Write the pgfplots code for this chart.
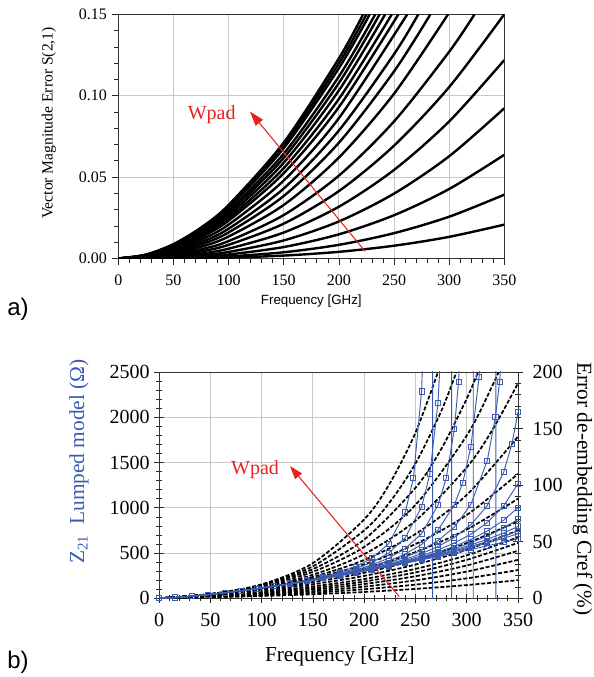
\documentclass[border=0pt]{standalone}
\usepackage{fontspec}
\setmainfont{Liberation Serif}
\setsansfont{Liberation Sans}
\usepackage{pgfplots}
\pgfplotsset{compat=1.18}
\usetikzlibrary{arrows.meta}

\definecolor{zblue}{HTML}{3A5BB0}
\definecolor{wred}{HTML}{E52421}
\definecolor{gridgray}{HTML}{C8C8C8}

\pgfplotsset{
  vme/.style={black, line width=1.8pt, smooth},
  cref/.style={black, line width=1.3pt, dash pattern=on 3pt off 1.4pt, smooth},
  z21/.style={zblue, line width=0.7pt, mark=square, mark size=1.9pt,
    mark options={solid, fill=zblue!8}},
}

\begin{document}
\begin{tikzpicture}
\useasboundingbox (0,0) rectangle (444.75pt,-507.75pt);

% ---------- a) vector magnitude error ----------
\begin{axis}[
  at={(88.725pt,-193.875pt)}, anchor=south west,
  scale only axis, width=289.5pt, height=183.15pt,
  xmin=0, xmax=350, ymin=0, ymax=0.15,
  xtick={0,50,...,350}, ytick={0,0.05,0.1,0.15},
  minor x tick num=4, minor y tick num=4,
  xtick pos=lower, ytick pos=left,
  grid=major, major grid style={gridgray, line width=0.6pt},
  tick align=outside, major tick length=5pt, minor tick length=3pt,
  tick style={black!85, line width=0.5pt},
  axis line style={black!80, line width=0.6pt},
  scaled y ticks=false,
  yticklabel style={/pgf/number format/.cd, fixed, fixed zerofill, precision=2},
  xticklabel style={yshift=-3.5pt},
  /pgf/number format/assume math mode=true,
  tick label style={font=\fontsize{12}{14}\selectfont},
  xlabel={Frequency [GHz]},
  xlabel style={font=\sffamily\fontsize{10}{12}\selectfont,
    at={(axis description cs:0.5,-0.175)}, anchor=center},
  ylabel={Vector Magnitude Error S(2,1)},
  ylabel style={font=\fontsize{11.7}{13}\selectfont,
    at={(axis description cs:-0.18,0.555)}, anchor=center},
]
\addplot[vme] coordinates {(0,0)(25,0.00001)(50,0.00007)(75,0.00024)(100,0.00055)(150,0.00179)(200,0.0041)(250,0.00785)(300,0.0133)(350,0.0208)};
\addplot[vme] coordinates {(0,0)(25,0.00003)(50,0.00019)(75,0.00057)(100,0.00125)(150,0.00382)(200,0.0084)(250,0.01556)(300,0.02567)(350,0.0392)};
\addplot[vme] coordinates {(0,0)(25,0.00007)(50,0.0004)(75,0.00116)(100,0.00245)(150,0.00705)(200,0.01485)(250,0.02658)(300,0.04268)(350,0.0637)};
\addplot[vme] coordinates {(0,0)(25,0.00013)(50,0.00071)(75,0.00196)(100,0.00402)(150,0.0111)(200,0.02276)(250,0.03985)(300,0.0628)(350,0.0923)};
\addplot[vme] coordinates {(0,0)(25,0.00022)(50,0.00114)(75,0.00303)(100,0.00602)(150,0.01596)(200,0.0318)(250,0.0544)(300,0.0842)(350,0.1219)};
\addplot[vme] coordinates {(0,0)(25,0.00035)(50,0.00171)(75,0.00434)(100,0.0084)(150,0.0214)(200,0.0414)(250,0.0693)(300,0.1053)(350,0.15)};
\addplot[vme] coordinates {(0,0)(25,0.00047)(50,0.00225)(75,0.00561)(100,0.0107)(150,0.0267)(200,0.0509)(250,0.0842)(300,0.127)(323,0.15)};
\addplot[vme] coordinates {(0,0)(25,0.00064)(50,0.00294)(75,0.00716)(100,0.01349)(150,0.0329)(200,0.062)(250,0.1012)(299,0.15)};
\addplot[vme] coordinates {(0,0)(25,0.00082)(50,0.00361)(75,0.00864)(100,0.016)(150,0.0384)(200,0.0711)(250,0.1149)(283,0.15)};
\addplot[vme] coordinates {(0,0)(25,0.001)(50,0.00428)(75,0.01)(100,0.0183)(150,0.043)(200,0.0786)(250,0.1255)(272,0.15)};
\addplot[vme] coordinates {(0,0)(25,0.00122)(50,0.00503)(75,0.01154)(100,0.0208)(150,0.0479)(200,0.0862)(262,0.15)};
\addplot[vme] coordinates {(0,0)(25,0.00146)(50,0.00582)(75,0.01308)(100,0.02325)(150,0.0524)(200,0.093)(254,0.15)};
\addplot[vme] coordinates {(0,0)(25,0.0016)(50,0.0063)(75,0.01406)(100,0.0248)(150,0.0555)(200,0.098)(248,0.15)};
\addplot[vme] coordinates {(0,0)(25,0.00175)(50,0.00682)(75,0.0151)(100,0.0265)(150,0.0588)(200,0.1032)(242,0.15)};
\addplot[vme] coordinates {(0,0)(25,0.00191)(50,0.00732)(75,0.0161)(100,0.0281)(150,0.0618)(200,0.1078)(237,0.15)};
\addplot[vme] coordinates {(0,0)(25,0.00207)(50,0.00782)(75,0.017)(100,0.0296)(150,0.0644)(200,0.1118)(233,0.15)};
\addplot[vme] coordinates {(0,0)(25,0.00225)(50,0.0084)(75,0.0181)(100,0.0313)(150,0.0678)(200,0.1169)(228,0.15)};
\addplot[vme] coordinates {(0,0)(25,0.00231)(50,0.0086)(75,0.0186)(100,0.0321)(150,0.0695)(200,0.1199)(225,0.15)};
\addplot[vme] coordinates {(0,0)(25,0.00236)(50,0.00882)(75,0.019)(100,0.0329)(150,0.0712)(200,0.1229)(222,0.15)};
\draw[wred, line width=0.8pt, -{Triangle[length=11pt,width=7pt]}]
  (axis cs:223.7,0.0045) -- (axis cs:119.4,0.0903);
\node[wred, font=\fontsize{15}{17}\selectfont] at (axis cs:84.7,0.0882) {Wpad};
\end{axis}

% ---------- b) grid and left axis ----------
\begin{axis}[
  at={(119.25pt,-448.725pt)}, anchor=south west,
  scale only axis, width=269.25pt, height=169.725pt,
  xmin=0, xmax=350, ymin=0, ymax=2500,
  xtick={0,50,...,350}, ytick={0,500,...,2500},
  minor x tick num=4, minor y tick num=4,
  xtick pos=lower, ytick pos=left,
  grid=major, major grid style={gridgray, line width=0.6pt},
  tick align=center, major tick length=7pt, minor tick length=4.5pt,
  tick style={black!85, line width=0.5pt},
  axis line style={black!80, line width=0.6pt},
  scaled y ticks=false,
  /pgf/number format/assume math mode=true,
  /pgf/number format/set thousands separator={},
  tick label style={font=\fontsize{15}{17}\selectfont},
  xticklabel style={yshift=-4.5pt},
  xlabel={Frequency [GHz]},
  xlabel style={font=\fontsize{16}{18}\selectfont,
    at={(axis description cs:0.504,-0.255)}, anchor=center},
  ylabel={Z\textsubscript{21}\ \ Lumped model (Ω)},
  ylabel style={zblue, font=\fontsize{16}{18}\selectfont,
    at={(axis description cs:-0.223,0.604)}, anchor=center},
]
\end{axis}

% ---------- b) right axis: de-embedding error ----------
\begin{axis}[
  at={(119.25pt,-448.725pt)}, anchor=south west,
  scale only axis, width=269.25pt, height=169.725pt,
  xmin=0, xmax=350, ymin=0, ymax=200,
  axis x line=none, axis y line*=right,
  ytick={0,50,...,200}, minor y tick num=4,
  tick align=center, major tick length=7pt, minor tick length=4.5pt,
  tick style={black!85, line width=0.5pt},
  axis line style={black!80, line width=0.6pt},
  /pgf/number format/assume math mode=true,
  tick label style={font=\fontsize{15}{17}\selectfont},
  yticklabel style={xshift=4pt},
  ylabel={Error de-embedding Cref (\%)},
  ylabel style={font=\fontsize{16}{18}\selectfont,
    at={(axis description cs:1.18,0.483)}, anchor=center, rotate=180},
]
\addplot[cref] coordinates {(0,0)(50,3.67)(100,12.33)(150,31.1)(200,69.7)(225,101.6)(250,146.3)(272,200)};
\addplot[cref] coordinates {(0,0)(50,3.74)(100,11.88)(150,28.3)(200,60.0)(225,85.0)(250,119.1)(275,165.1)(290,200)};
\addplot[cref] coordinates {(0,0)(50,3.80)(100,11.44)(150,25.8)(200,51.9)(250,97.6)(275,131.7)(300,176.4)(311,200)};
\addplot[cref] coordinates {(0,0)(50,3.69)(100,10.74)(150,23.4)(200,45.4)(250,82.5)(300,143.8)(325,187.9)(331,200)};
\addplot[cref] coordinates {(0,0)(50,3.51)(100,9.87)(150,20.8)(200,39.0)(250,68.6)(300,115.7)(325,148.8)(350,190)};
\addplot[cref] coordinates {(0,0)(50,3.51)(100,9.41)(150,18.9)(200,33.9)(250,56.8)(300,91.4)(350,143)};
\addplot[cref] coordinates {(0,0)(50,3.57)(100,9.14)(150,17.5)(200,30.0)(250,47.9)(300,73.6)(350,110)};
\addplot[cref] coordinates {(0,0)(50,3.43)(100,8.52)(150,15.9)(200,26.3)(250,40.8)(300,60.8)(350,88)};
\addplot[cref] coordinates {(0,0)(50,3.29)(100,7.88)(150,14.2)(200,22.6)(250,33.9)(300,48.7)(350,68)};
\addplot[cref] coordinates {(0,0)(50,2.86)(100,6.87)(150,12.4)(200,19.8)(250,29.8)(300,42.9)(350,60)};
\addplot[cref] coordinates {(0,0)(50,2.36)(100,5.74)(150,10.5)(200,17.0)(250,26.0)(300,38.0)(350,54)};
\addplot[cref] coordinates {(0,0)(50,1.96)(100,4.85)(150,9.0)(200,14.8)(250,22.9)(300,34.0)(350,49)};
\addplot[cref] coordinates {(0,0)(50,1.64)(100,4.08)(150,7.6)(200,12.6)(250,19.5)(300,29.0)(350,42)};
\addplot[cref] coordinates {(0,0)(50,1.36)(100,3.36)(150,6.2)(200,10.3)(250,15.9)(300,23.6)(350,34)};
\addplot[cref] coordinates {(0,0)(50,1.11)(100,2.69)(150,4.9)(200,8.0)(250,12.1)(300,17.6)(350,25)};
\addplot[cref] coordinates {(0,0)(50,0.87)(100,2.04)(150,3.6)(200,5.6)(250,8.3)(300,11.7)(350,16)};
\end{axis}

% ---------- b) blue lumped-model Z21 curves ----------
\begin{axis}[
  at={(119.25pt,-448.725pt)}, anchor=south west,
  scale only axis, width=269.25pt, height=169.725pt,
  xmin=0, xmax=350, ymin=0, ymax=2500,
  hide axis,
]
\addplot[z21] coordinates {(0,0)(16,8.7)(32,23.1)(48,40.7)(64,60.8)(80,83.1)(96,107.3)(112,135)(128,165)(144,198.5)(160,237.8)(176,286.7)(192,351)(208,445.6)(224,604.8)(240,948)(248,1325)(256,2285)(260,3684)(266.7,20000)(266.7,-20000)};
\addplot[z21] coordinates {(0,0)(16,8.7)(32,23.1)(48,40.7)(64,60.8)(80,83.1)(96,107.3)(112,134.4)(128,163.6)(144,195.8)(160,232.2)(176,275.3)(192,328.4)(208,398.9)(224,500.7)(240,668.5)(256,1008.6)(264,1369)(272,2161)(276,3012)(285.3,20000)(285.3,-20000)};
\addplot[z21] coordinates {(0,0)(16,8.7)(32,23.1)(48,40.7)(64,60.8)(80,83.1)(96,107.3)(112,134.1)(128,162.7)(144,193.9)(160,228.3)(176,267.5)(192,313.5)(208,370.2)(224,444.3)(240,549.2)(256,714)(272,1028.6)(280,1325)(288,1873.6)(292,2387)(296,3235)(306.4,20000)(306.4,-20000)};
\addplot[z21] coordinates {(0,0)(16,8.7)(32,23.1)(48,40.7)(64,60.8)(80,83.1)(96,107.3)(112,133.8)(128,162.0)(144,192.5)(160,225.6)(176,262.3)(192,303.9)(208,352.6)(224,412.1)(240,488.7)(256,593.8)(272,754.5)(288,1034)(296,1271.5)(304,1668.7)(312,2441)(316,3189)(328.5,20000)(328.5,-20000)};
\addplot[z21] coordinates {(0,0)(16,8.7)(32,23.1)(48,40.7)(64,60.8)(80,83.1)(96,107.3)(112,133.6)(128,161.6)(144,191.6)(160,223.7)(176,258.9)(192,297.6)(208,341.3)(224,392.4)(240,454)(256,531.5)(272,636.4)(288,787.9)(304,1035.5)(320,1519)(328,2006)(332,2386)(336,2961)(340,3914)};
\addplot[z21] coordinates {(0,0)(16,8.7)(32,23.1)(48,40.7)(64,60.8)(80,83.1)(96,107.3)(112,133.5)(128,161.3)(144,190.9)(160,222.4)(176,256.4)(192,293.2)(208,333.6)(224,379.2)(240,431.7)(256,494)(272,571.5)(288,672)(304,812)(320,1023)(336,1391)(344,1703)(350,2055)};
\addplot[z21] coordinates {(0,0)(16,8.7)(32,23.1)(48,40.7)(64,60.8)(80,83.1)(96,107.3)(112,133.4)(128,161.1)(144,190.5)(160,221.5)(176,254.7)(192,290.2)(208,328.5)(224,370.6)(240,417.7)(256,471.2)(272,534.2)(288,610.5)(304,707.4)(320,836)(336,1020.8)(350,1267)};
\addplot[z21] coordinates {(0,0)(16,8.7)(32,23.1)(48,40.7)(64,60.8)(80,83.1)(96,107.3)(112,133.4)(128,161.0)(144,190.2)(160,220.9)(176,253.6)(192,288.2)(208,325.0)(224,364.9)(240,408.5)(256,456.6)(272,511.2)(288,574.1)(304,649.7)(320,742.2)(336,862)(350,1001.8)};
\addplot[z21] coordinates {(0,0)(16,8.7)(32,23.1)(48,40.7)(64,60.8)(80,83.1)(96,107.3)(112,133.3)(128,160.9)(144,189.9)(160,220.5)(176,252.8)(192,286.8)(208,322.6)(224,361.0)(240,402.2)(256,446.8)(272,495.9)(288,550.7)(304,613.8)(320,687.1)(336,775.9)(350,871.4)};
\addplot[z21] coordinates {(0,0)(16,8.7)(32,23.1)(48,40.7)(64,60.8)(80,83.1)(96,107.3)(112,133.3)(128,160.8)(144,189.6)(160,220.2)(176,252.2)(192,285.7)(208,320.8)(224,358.1)(240,397.6)(256,439.6)(272,485.0)(288,534.3)(304,589.3)(320,650.9)(336,721.7)(350,793.7)};
\addplot[z21] coordinates {(0,0)(16,8.7)(32,23.1)(48,40.7)(64,60.8)(80,83.1)(96,107.3)(112,133.2)(128,160.7)(144,189.5)(160,219.8)(176,251.5)(192,285.0)(208,319.6)(224,356.0)(240,394.3)(256,434.6)(272,477.4)(288,523.2)(304,573.0)(320,627.0)(336,686.2)(350,746.1)};
\addplot[z21] coordinates {(0,0)(16,8.7)(32,23.1)(48,40.7)(64,60.8)(80,83.1)(96,107.3)(112,133.2)(128,160.6)(144,189.4)(160,219.6)(176,251.0)(192,283.8)(208,318.2)(224,354.5)(240,391.9)(256,430.9)(272,471.9)(288,515.0)(304,561.2)(320,610.2)(336,663.2)(350,713.6)};
\addplot[z21] coordinates {(0,0)(16,8.7)(32,23.1)(48,40.7)(64,60.8)(80,83.1)(96,107.3)(112,133.2)(128,160.6)(144,189.4)(160,219.4)(176,250.8)(192,283.3)(208,316.7)(224,351.4)(240,387.1)(256,423.7)(272,461.2)(288,499.5)(304,539.0)(320,579.1)(336,620)(350,656.5)};
\draw[wred, line width=0.8pt, -{Triangle[length=10pt,width=6.5pt]}]
  (axis cs:234.3,17.7) -- (axis cs:127.7,1461);
\node[wred, font=\fontsize{15}{17}\selectfont] at (axis cs:93.6,1417) {Wpad};
\end{axis}

\node[font=\sffamily\fontsize{18}{20}\selectfont] at (13.5pt,-231.75pt) {a)};
\node[font=\sffamily\fontsize{18}{20}\selectfont] at (13.5pt,-496.5pt) {b)};
\end{tikzpicture}
\end{document}
